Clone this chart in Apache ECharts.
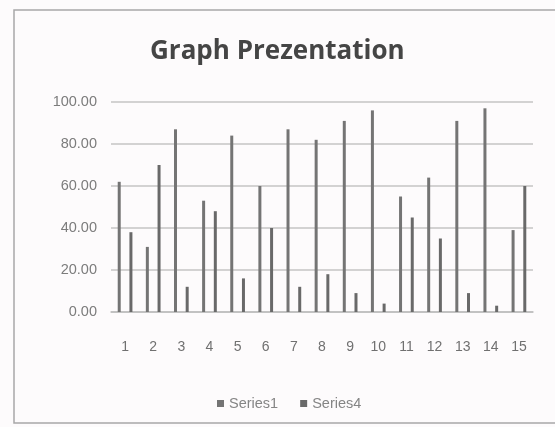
<!DOCTYPE html>
<html>
<head>
<meta charset="utf-8">
<script src="https://cdn.jsdelivr.net/npm/echarts@6/dist/echarts.min.js"></script>
<style>
html,body{margin:0;padding:0;background:#fdfbfc;}
#chart{width:555px;height:427px;}
</style>
</head>
<body>
<div id="chart"></div>
<script>
const categories = ['1','2','3','4','5','6','7','8','9','10','11','12','13','14','15'];
const series1 = [62, 31, 87, 53, 84, 60, 87, 82, 91, 96, 55, 64, 91, 97, 39];
const series4 = [38, 70, 12, 48, 16, 40, 12, 18, 9, 4, 45, 35, 9, 3, 60];
const yTicks = [0, 20, 40, 60, 80, 100];
const FONT = '"Liberation Sans", Arial, sans-serif';

const chart = echarts.init(document.getElementById('chart'));
chart.setOption({
  backgroundColor: '#fdfbfc',
  animation: false,
  graphic: [{
    type: 'rect',
    shape: {x: 14, y: 10, width: 560, height: 413},
    style: {fill: 'none', stroke: '#a8a8a8', lineWidth: 1.5}
  }],
  title: {
    text: 'Graph Prezentation',
    left: 145,
    top: 34,
    textStyle: {fontFamily: '"Open Sans", sans-serif', fontWeight: 'bold', fontSize: 26, color: '#454545'}
  },
  legend: {
    top: 391,
    left: 212,
    itemWidth: 7,
    itemHeight: 7,
    itemGap: 22,
    icon: 'rect',
    textStyle: {fontFamily: FONT, fontSize: 14.5, color: '#858585'},
    data: ['Series1', 'Series4']
  },
  grid: {left: 111, right: 22, top: 102, bottom: 115},
  xAxis: {
    type: 'category',
    data: categories,
    axisTick: {show: false},
    axisLine: {lineStyle: {color: '#bdbdbd', width: 1.5}},
    axisLabel: {fontFamily: FONT, fontSize: 14, color: '#707070', margin: 28}
  },
  yAxis: {
    type: 'value',
    min: yTicks[0],
    max: yTicks[yTicks.length - 1],
    interval: 20,
    axisLine: {show: false},
    axisTick: {show: false},
    splitLine: {lineStyle: {color: '#c4c4c4', width: 1.5}},
    axisLabel: {fontFamily: FONT, fontSize: 14.5, color: '#7c7c7c', margin: 14,
      formatter: v => v.toFixed(2)}
  },
  series: [
    {name: 'Series1', type: 'bar', data: series1, barWidth: 3, barGap: '290%',
     itemStyle: {color: '#747474'}},
    {name: 'Series4', type: 'bar', data: series4, barWidth: 3,
     itemStyle: {color: '#696969'}}
  ]
});
</script>
</body>
</html>
